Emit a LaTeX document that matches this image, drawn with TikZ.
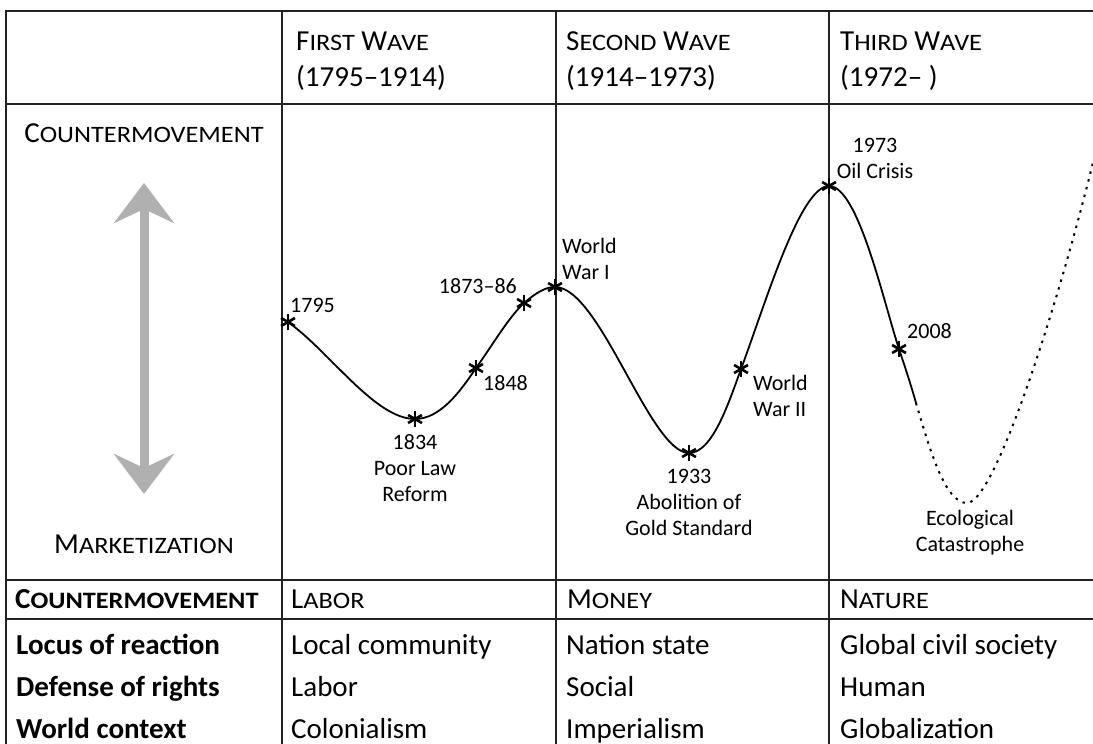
\documentclass[tikz,border=0pt]{standalone}
\usepackage{fontspec}
\setmainfont{Carlito}
\usetikzlibrary{arrows.meta}

\definecolor{WaveGray}{HTML}{B0B0B0}
\definecolor{GridInk}{HTML}{222222}
\tikzset{
gridline/.style={line width=2pt, draw=GridInk},
waveline/.style={line width=1.8pt},
wavedots/.style={line width=2pt, dash pattern=on 2.5pt off 5.5pt},
markline/.style={line width=2.6pt},
headtext/.style={font=\fontsize{29}{33}\selectfont, anchor=base west, inner sep=0pt},
cell/.style={font=\fontsize{29}{33}\selectfont, anchor=base west, inner sep=0pt},
rowhead/.style={font=\fontsize{29}{33}\selectfont\bfseries, anchor=base west, inner sep=0pt},
eventlabel/.style={font=\fontsize{22}{26}\selectfont, inner sep=0pt},
swingarrow/.style={{Stealth[length=40pt,width=60pt,inset=14pt]}-{Stealth[length=40pt,width=60pt,inset=14pt]},
  line width=9pt, draw=WaveGray}
}
% small capitals by hand (Carlito has none)
\newcommand\scw[2]{#1{\fontsize{23.5}{27}\selectfont\addfontfeature{FakeStretch=1.12}#2}}
\newcommand\wavemark[1]{%
  \foreach \a in {90,30,150}
    \draw[markline] (#1) ++(\a:8) -- ++(\a+180:16);}

\begin{document}
\begin{tikzpicture}[x=1pt, y=-1pt]
\useasboundingbox (0,0) rectangle (1093,744);

% table frame
\draw[gridline] (6,11) -- (1100,11);
\draw[gridline] (6,104) -- (1100,104);
\draw[gridline] (6,580) -- (1100,580);
\draw[gridline] (6,619) -- (1100,619);
\foreach \x in {6,282,556,829}
  \draw[gridline] (\x,10) -- (\x,750);

% wave headings
\node[headtext] (w1) at (296,50) {\scw{F}{IRST} \scw{W}{AVE}};
\node[headtext] (w1d) at (296,86) {(1795--1914)};
\node[headtext] (w2) at (566,50) {\scw{S}{ECOND} \scw{W}{AVE}};
\node[headtext] (w2d) at (566,86) {(1914--1973)};
\node[headtext] (w3) at (840,50) {\scw{T}{HIRD} \scw{W}{AVE}};
\node[headtext] (w3d) at (840,86) {(1972-- )};

% left axis
\node[headtext, anchor=base] (up) at (144,142) {\scw{C}{OUNTERMOVEMENT}};
\node[headtext, anchor=base] (down) at (144,553) {\scw{M}{ARKETIZATION}};
\coordinate (arrowtop) at (144,183);
\coordinate (arrowbot) at (144,494);
\draw[swingarrow] (arrowbot) -- (arrowtop);

% the wave
\coordinate (p1795) at (288,322);
\coordinate (p1834) at (415,419);
\coordinate (p1848) at (476,368);
\coordinate (p1873) at (524,303);
\coordinate (pww1) at (555,287);
\coordinate (p1933) at (689,453);
\coordinate (pww2) at (741,369);
\coordinate (p1973) at (829,186);
\coordinate (p2008) at (899,349);
\coordinate (pnow) at (916,403);
\coordinate (peco) at (967,503);
\coordinate (pend) at (1096,150);

\draw[waveline] (p1795) .. controls (330,352) and (375,419) .. (p1834)
  .. controls (440,419) and (460,392) .. (p1848)
  .. controls (492,346) and (508,318) .. (p1873)
  .. controls (536,293) and (545,287) .. (pww1)
  .. controls (600,287) and (650,453) .. (p1933)
  .. controls (712,453) and (728,405) .. (pww2)
  .. controls (765,305) and (800,186) .. (p1973)
  .. controls (858,186) and (883,300) .. (p2008)
  .. controls (905,367) and (911,385) .. (pnow);
\draw[wavedots] (pnow) .. controls (930,450) and (945,503) .. (peco)
  .. controls (995,503) and (1060,300) .. (pend);

\foreach \p in {p1795,p1834,p1848,p1873,pww1,p1933,pww2,p1973,p2008}
  \wavemark{\p};

% events
\node[eventlabel, anchor=base west] (l1795) at (290,312) {1795};
\node[eventlabel, anchor=north, align=center] (l1834) at (415,434) {1834\\Poor Law\\Reform};
\node[eventlabel, anchor=base west] (l1848) at (483,390) {1848};
\node[eventlabel, anchor=base east] (l1873) at (517,293) {1873--86};
\node[eventlabel, anchor=north west, align=left] (lww1) at (562,238) {World\\War I};
\node[eventlabel, anchor=north, align=center] (l1933) at (689,469) {1933\\Abolition of\\Gold Standard};
\node[eventlabel, anchor=north west, align=left] (lww2) at (753,375) {World\\War II};
\node[eventlabel, anchor=north, align=center] (l1973) at (875,138) {1973\\Oil Crisis};
\node[eventlabel, anchor=base west] (l2008) at (907,338) {2008};
\node[eventlabel, anchor=north, align=center] (leco) at (970,510) {Ecological\\Catastrophe};

% lower rows
\node[rowhead] (cm) at (15,608) {\scw{C}{OUNTERMOVEMENT}};
\node[cell] (labor) at (291,608) {\scw{L}{ABOR}};
\node[cell] (money) at (567,608) {\scw{M}{ONEY}};
\node[cell] (nature) at (840,608) {\scw{N}{ATURE}};

\node[rowhead] (locus) at (16,654) {Locus of reaction};
\node[cell] (locus1) at (291,654) {Local community};
\node[cell] (locus2) at (566,654) {Nation state};
\node[cell] (locus3) at (840,654) {Global civil society};

\node[rowhead] (rights) at (16,696) {Defense of rights};
\node[cell] (rights1) at (291,696) {Labor};
\node[cell] (rights2) at (566,696) {Social};
\node[cell] (rights3) at (840,696) {Human};

\node[rowhead] (context) at (16,738) {World context};
\node[cell] (context1) at (291,738) {Colonialism};
\node[cell] (context2) at (566,738) {Imperialism};
\node[cell] (context3) at (840,738) {Globalization};
\end{tikzpicture}
\end{document}
